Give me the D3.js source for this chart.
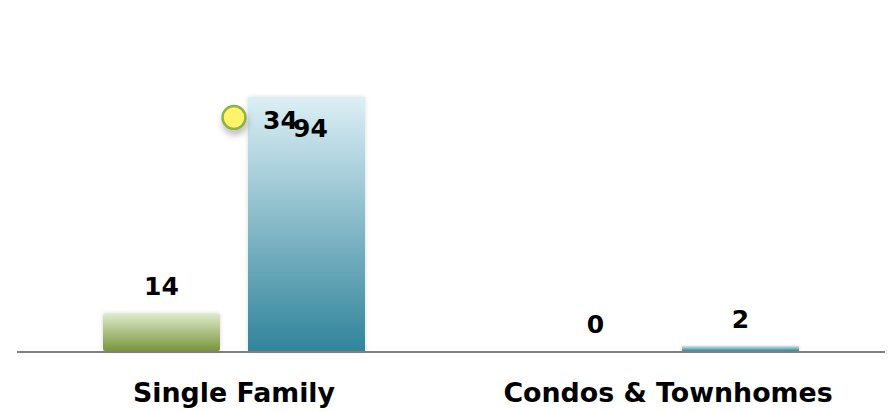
<!DOCTYPE html>
<html><head><meta charset="utf-8">
<script src="https://cdn.jsdelivr.net/npm/d3@7"></script>
<style>body{margin:0;background:#fff;}svg{display:block;}</style>
</head><body>
<svg id="c" width="888" height="412"></svg>
<script>
const categories = ["Single Family", "Condos & Townhomes"];
const seriesGreen = [14, 0];
const seriesBlue = [94, 2];
const pointValues = [34, null];

const W = 888, H = 412;
const m = {left: 17, right: 3, top: 97, bottom: 61};
const svg = d3.select("#c");
const defs = svg.append("defs");

function grad(id, top, bottom) {
  const g = defs.append("linearGradient").attr("id", id).attr("x1", 0).attr("y1", 0).attr("x2", 0).attr("y2", 1);
  g.append("stop").attr("offset", "0%").attr("stop-color", top);
  g.append("stop").attr("offset", "100%").attr("stop-color", bottom);
}
grad("gGreen", "#E1EBCD", "#77953B");
grad("gBlue", "#DCEFF5", "#31849B");

const f1 = defs.append("filter").attr("id", "barShadow").attr("x", "-10%").attr("y", "-10%").attr("width", "120%").attr("height", "120%");
f1.append("feDropShadow").attr("dx", 0).attr("dy", 0).attr("stdDeviation", 2).attr("flood-color", "#000").attr("flood-opacity", 0.15);
const f2 = defs.append("filter").attr("id", "ptShadow").attr("x", "-50%").attr("y", "-50%").attr("width", "200%").attr("height", "220%");
f2.append("feDropShadow").attr("dx", 1).attr("dy", 5).attr("stdDeviation", 3).attr("flood-color", "#000").attr("flood-opacity", 0.25);

const x0 = d3.scaleBand().domain(categories).range([m.left, W - m.right]).paddingInner(0).paddingOuter(0);
const y = d3.scaleLinear().domain([0, 94]).range([H - m.bottom, m.top]);
const y2 = d3.scaleLinear().domain([0, 37]).range([H - m.bottom, m.top]);

const baseY = y(0);
const barW = 117, gap = 28;
const series = [
  {key: "green", values: seriesGreen, fill: "url(#gGreen)", off: -gap / 2 - barW},
  {key: "blue", values: seriesBlue, fill: "url(#gBlue)", off: gap / 2}
];

const font = "'DejaVu Sans', Verdana, sans-serif";

series.forEach(s => {
  categories.forEach((c, i) => {
    const v = s.values[i];
    const cx = x0(c) + x0.bandwidth() / 2;
    const bx = cx + s.off;
    if (v > 0) {
      svg.append("rect")
        .attr("x", bx).attr("y", y(v)).attr("width", barW).attr("height", baseY - y(v))
        .attr("rx", s.key === "green" ? 2 : 0)
        .attr("fill", s.fill).attr("filter", "url(#barShadow)");
    }
    let ly = y(v) - 18, dx = 0;
    if (ly < m.top) { ly = y(v) + 40; dx = 4; }
    svg.append("text")
      .attr("x", bx + barW / 2 + dx).attr("y", ly)
      .attr("text-anchor", "middle")
      .attr("font-family", font).attr("font-weight", "bold").attr("font-size", 25)
      .attr("fill", "#000").text(v);
  });
});

// axis line
svg.append("line").attr("x1", m.left).attr("x2", W - m.right).attr("y1", baseY + 1).attr("y2", baseY + 1)
  .attr("stroke", "#808080").attr("stroke-width", 2);

// category labels
const xAxis = d3.axisBottom(x0).tickSize(0).tickPadding(0);
const ax = svg.append("g").attr("transform", `translate(0,${baseY})`).call(xAxis);
ax.select(".domain").remove();
ax.selectAll("text").attr("dy", 0).attr("y", 51)
  .attr("font-family", font).attr("font-weight", "bold").attr("font-size", 26.8).attr("fill", "#000");

// point series
categories.forEach((c, i) => {
  const v = pointValues[i];
  if (v == null) return;
  const cx = x0(c) + x0.bandwidth() / 2;
  svg.append("circle").attr("cx", cx).attr("cy", y2(v)).attr("r", 11.5)
    .attr("fill", "#FFF468").attr("stroke", "#8DB24A").attr("stroke-width", 2.5)
    .attr("filter", "url(#ptShadow)");
  svg.append("text").attr("x", cx + 29).attr("y", y2(v) + 11)
    .attr("font-family", font).attr("font-weight", "bold").attr("font-size", 25)
    .attr("fill", "#000").text(v);
});
</script>
</body></html>
